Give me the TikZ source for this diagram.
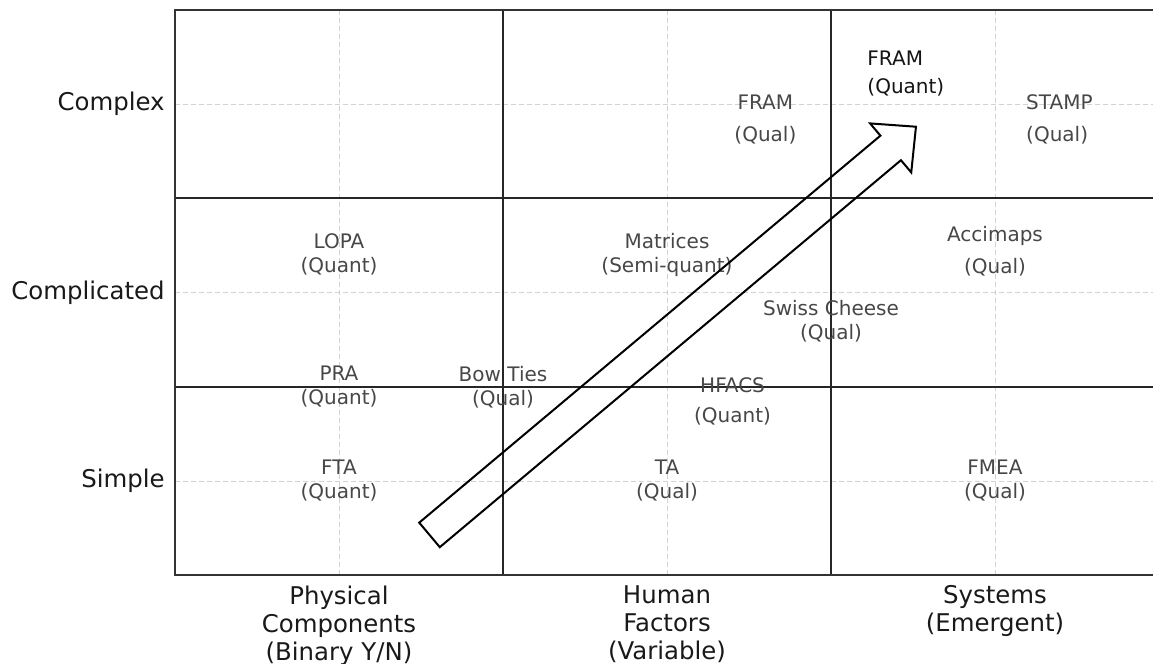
\documentclass[tikz,border=0pt]{standalone}
\usepackage{fontspec}
\setmainfont{DejaVu Sans}
\usepackage{tikz}
\usetikzlibrary{positioning}
\tikzset{
    gridline/.style={
        dash pattern=on 2.5pt off 1.5pt, draw=gray!35, line width=0.45pt
    },
    divider/.style={
        draw=black!85, line width=0.8pt
    },
    frameline/.style={
        draw=black!80, line width=1.2pt
    },
    cell/.style={
        font=\fontsize{10}{12}\selectfont, text=black!72, align=center, inner sep=0pt
    },
    ticklabel/.style={
        font=\fontsize{12.2}{14}\selectfont, text=black!90, inner sep=0pt
    },
    catlabel/.style={
        font=\fontsize{12.2}{14}\selectfont, text=black!90, align=center, inner sep=0pt
    },
    hollowarrow/.style={
        draw=black, line width=1pt, line join=miter
    }
}

\begin{document}
\begin{tikzpicture}[x=164pt, y=94.25pt]

	\useasboundingbox (-1.0335,-0.9708) rectangle (2.4817,2.5517);

	% GRID
	\foreach \k in {0,1,2} {
		\draw[gridline] (\k,-0.5) -- (\k,2.5);
		\draw[gridline] (-0.5,\k) -- (2.4817,\k);
	}
	\foreach \k in {0.5,1.5} {
		\draw[divider] (\k,-0.5) -- (\k,2.5);
		\draw[divider] (-0.5,\k) -- (2.4817,\k);
	}
	\draw[frameline] (2.4817,2.5) -- (-0.5,2.5) -- (-0.5,-0.5) -- (2.4817,-0.5);

	% AXIS LABELS
	\coordinate (ysimple) at (-0.5,0);
	\coordinate (ycomplicated) at (-0.5,1);
	\coordinate (ycomplex) at (-0.5,2);
	\node[ticklabel, left=5pt of ysimple] (simple) {Simple};
	\node[ticklabel, left=5pt of ycomplicated] (complicated) {Complicated};
	\node[ticklabel, left=5pt of ycomplex] (complex) {Complex};

	\coordinate (xphysical) at (0,-0.5);
	\coordinate (xhuman) at (1,-0.5);
	\coordinate (xsystems) at (2,-0.5);
	\node[catlabel, below=5pt of xphysical] (physical) {Physical\\Components\\(Binary Y/N)};
	\node[catlabel, below=5pt of xhuman] (human) {Human\\Factors\\(Variable)};
	\node[catlabel, below=5pt of xsystems] (systems) {Systems\\(Emergent)};

	% METHODS
	\node[cell] (fta) at (0,0) {FTA\\(Quant)};
	\node[cell] (ta) at (1,0) {TA\\(Qual)};
	\node[cell] (fmea) at (2,0) {FMEA\\(Qual)};
	\node[cell] (pra) at (0,0.5) {PRA\\(Quant)};
	\node[cell] (bowties) at (0.5,0.5) {Bow Ties\\(Qual)};
	\node[cell] (hfacs) at (1.2,0.424) {HFACS\\[3pt](Quant)};
	\node[cell] (swiss) at (1.5,0.846) {Swiss Cheese\\(Qual)};
	\node[cell] (lopa) at (0,1.2) {LOPA\\(Quant)};
	\node[cell] (matrices) at (1,1.2) {Matrices\\(Semi-quant)};
	\node[cell] (accimaps) at (2,1.22) {Accimaps\\[4pt](Qual)};
	\node[cell] (framqual) at (1.3,1.918) {FRAM\\[4pt](Qual)};
	\node[cell, align=left, anchor=west, text=black!92] (framquant) at (1.61,2.159) {FRAM\\[2pt](Quant)};
	\node[cell, align=left, anchor=west] (stamp) at (2.094,1.92) {STAMP\\[4pt](Qual)};

	% ARROW
	\coordinate (tail) at (0.276,-0.286);
	\begin{scope}[shift={(tail)}, rotate=40, x=0.5pt, y=0.5pt]
		\draw[hollowarrow] (0,-16) -- (602,-16) -- (602,-32) -- (635,0)
			-- (602,32) -- (602,16) -- (0,16) -- cycle;
	\end{scope}

\end{tikzpicture}
\end{document}
